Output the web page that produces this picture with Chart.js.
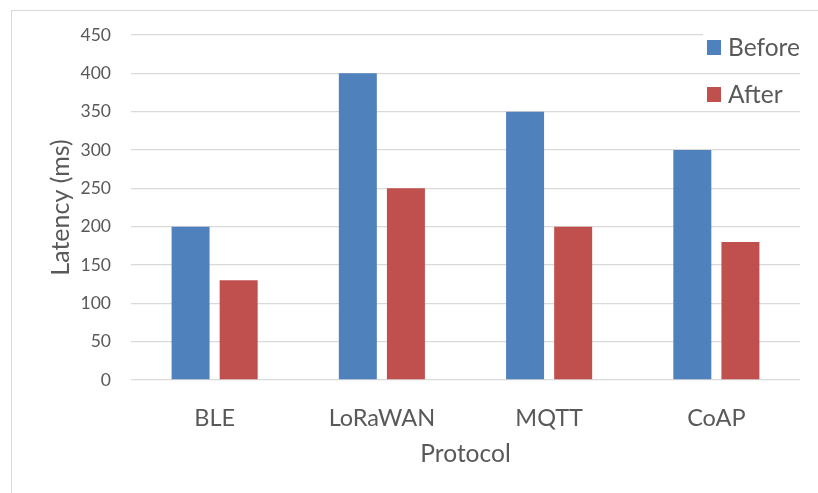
<!DOCTYPE html>
<html>
<head>
<meta charset="utf-8">
<script src="https://cdn.jsdelivr.net/npm/chart.js@4.4.1/dist/chart.umd.min.js"></script>
<style>
  html, body { margin: 0; padding: 0; background: #fff; overflow: hidden; }
  #frame {
    position: absolute; left: 11px; top: 10px;
    width: 840px; height: 520px;
    border: 1px solid #d9d9d9;
  }
  #wrap { position: absolute; left: 0; top: 0; width: 818px; height: 493px; }
</style>
</head>
<body>
<div id="frame"></div>
<div id="wrap"><canvas id="latency-chart"></canvas></div>
<script>
const protocols = ['BLE', 'LoRaWAN', 'MQTT', 'CoAP'];
const latencyBefore = [200, 400, 350, 300];
const latencyAfter = [130, 250, 200, 180];
const yTicks = [0, 50, 100, 150, 200, 250, 300, 350, 400, 450];

const textColor = '#595959';
const fontFamily = 'Lato, "Open Sans", sans-serif';

// legend stacked in the top right corner, over the grid
const cornerLegend = {
    id: 'cornerLegend',
    afterDraw(chart) {
        const ctx = chart.ctx;
        const x = 707;
        const rows = [47, 94];
        ctx.save();
        ctx.font = '24.5px ' + fontFamily;
        ctx.textBaseline = 'middle';
        chart.data.datasets.forEach(function(ds, i) {
            const y = rows[i];
            ctx.fillStyle = '#fff';
            ctx.fillRect(x - 4, y - 14, 100, 28);
            ctx.fillStyle = ds.backgroundColor;
            ctx.fillRect(x, y - 7, 14, 15);
            ctx.fillStyle = textColor;
            ctx.fillText(ds.label, x + 21, y + 1);
        });
        ctx.restore();
    }
};

const ctx = document.getElementById('latency-chart').getContext('2d');

new Chart(ctx, {
    type: 'bar',
    data: {
        labels: protocols,
        datasets: [{
            label: 'Before',
            data: latencyBefore,
            backgroundColor: '#4F81BD',
            categoryPercentage: 0.575,
            barPercentage: 0.79
        }, {
            label: 'After',
            data: latencyAfter,
            backgroundColor: '#C0504D',
            categoryPercentage: 0.575,
            barPercentage: 0.79
        }]
    },
    options: {
        responsive: true,
        maintainAspectRatio: false,
        animation: false,
        layout: { padding: { left: 44, top: 35, right: 18, bottom: 0 } },
        plugins: {
            legend: { display: false },
            tooltip: { enabled: false }
        },
        scales: {
            x: {
                grid: { display: false },
                border: { display: false },
                ticks: {
                    color: textColor,
                    font: { family: fontFamily, size: 23.5 },
                    padding: 16
                },
                title: {
                    display: true,
                    text: 'Protocol',
                    color: textColor,
                    font: { family: fontFamily, size: 24.5 },
                    padding: { top: 0, bottom: 24 }
                },
                afterFit: function(scale) { scale.height = 113; }
            },
            y: {
                min: 0,
                max: 450,
                afterBuildTicks: function(scale) {
                    scale.ticks = yTicks.map(function(v) { return { value: v }; });
                },
                grid: { color: '#d9d9d9', drawTicks: false, lineWidth: 1.3 },
                border: { display: false },
                ticks: {
                    color: textColor,
                    font: { family: fontFamily, size: 17.5 },
                    padding: 20
                },
                title: {
                    display: true,
                    text: 'Latency (ms)',
                    color: textColor,
                    font: { family: fontFamily, size: 25 },
                    padding: { top: 2, bottom: 4 }
                },
                afterFit: function(scale) { scale.width = 87; }
            }
        }
    },
    plugins: [cornerLegend]
});
</script>
</body>
</html>
